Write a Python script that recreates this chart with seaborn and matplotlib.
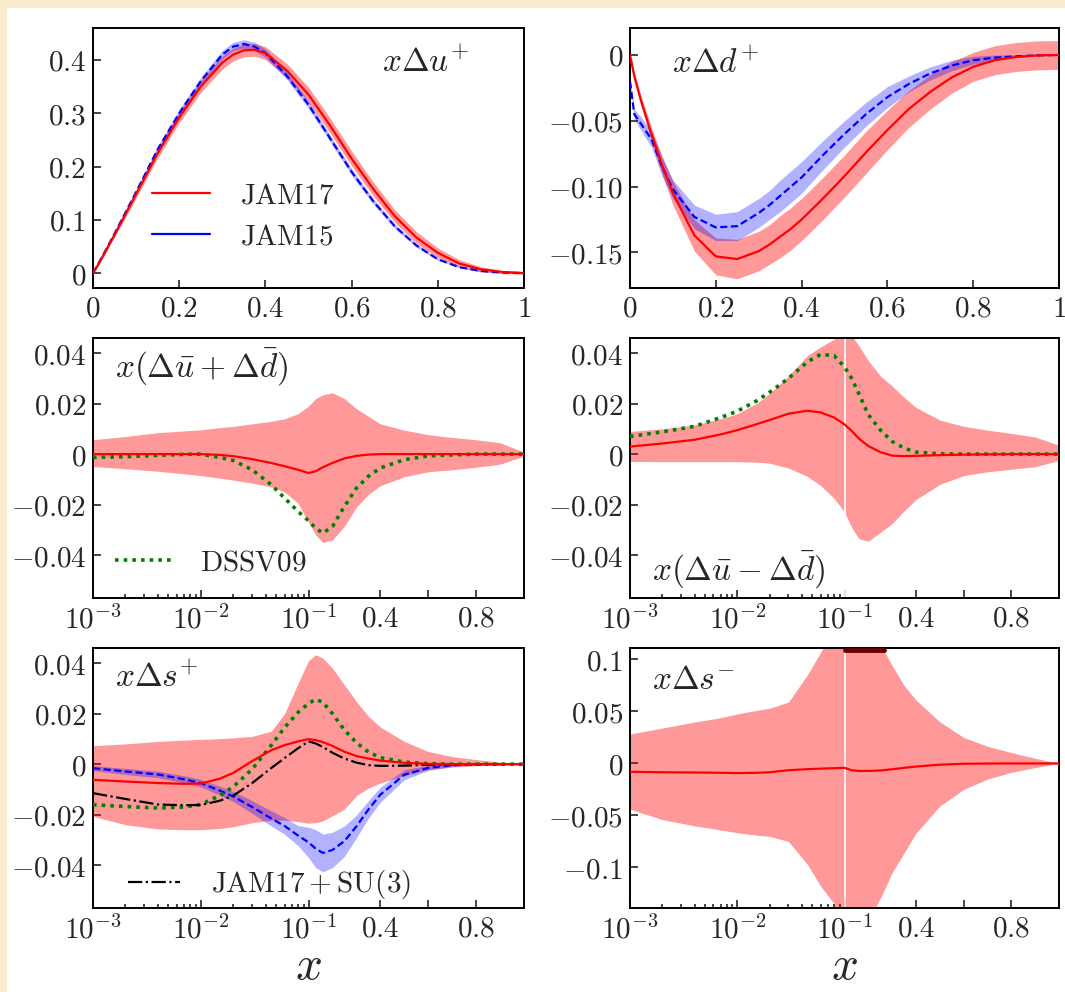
import numpy as np
import matplotlib
matplotlib.use('Agg')
import matplotlib.pyplot as plt
from matplotlib.lines import Line2D
from matplotlib.patches import Rectangle
import seaborn as sns

# ---- top row: linear x ----
x_lin = [0, 0.01, 0.025, 0.05, 0.075, 0.1, 0.15, 0.2, 0.25, 0.3, 0.325, 0.35, 0.375, 0.4, 0.45,
         0.5, 0.55, 0.6, 0.65, 0.7, 0.75, 0.8, 0.85, 0.9, 0.95, 1.0]

up_jam17 = [0, 0.013, 0.035, 0.072, 0.11, 0.148, 0.225, 0.292, 0.35, 0.395, 0.41, 0.418, 0.419, 0.413, 0.38,
            0.335, 0.277, 0.215, 0.158, 0.107, 0.067, 0.038, 0.018, 0.007, 0.002, 0]
up_jam17_err = [0, 0.002, 0.003, 0.004, 0.006, 0.007, 0.009, 0.01, 0.011, 0.012, 0.012, 0.012, 0.012, 0.012, 0.013,
                0.014, 0.014, 0.014, 0.013, 0.012, 0.011, 0.009, 0.007, 0.005, 0.003, 0.002]
up_jam15 = [0, 0.014, 0.036, 0.074, 0.113, 0.152, 0.232, 0.3, 0.36, 0.41, 0.425, 0.43, 0.425, 0.413, 0.37,
            0.316, 0.253, 0.19, 0.135, 0.088, 0.052, 0.026, 0.011, 0.004, 0.001, 0]
up_jam15_err = [0, 0.002, 0.003, 0.004, 0.005, 0.005, 0.006, 0.007, 0.007, 0.008, 0.008, 0.008, 0.008, 0.008, 0.007,
                0.007, 0.006, 0.006, 0.005, 0.004, 0.003, 0.002, 0.001, 0.001, 0, 0]

dp_jam17 = [0, -0.016, -0.034, -0.06, -0.084, -0.105, -0.137, -0.153, -0.155, -0.149, -0.144, -0.138, -0.132, -0.125, -0.109,
            -0.092, -0.074, -0.057, -0.041, -0.028, -0.017, -0.009, -0.004, -0.0015, -0.0003, 0]
dp_jam17_err = [0.002, 0.003, 0.004, 0.005, 0.007, 0.009, 0.012, 0.014, 0.015, 0.015, 0.015, 0.016, 0.016, 0.016, 0.016,
                0.016, 0.016, 0.015, 0.014, 0.013, 0.012, 0.011, 0.011, 0.011, 0.011, 0.011]
dp_jam15 = [-0.02, -0.045, -0.052, -0.064, -0.085, -0.102, -0.123, -0.131, -0.13, -0.12, -0.114, -0.107, -0.100, -0.093, -0.076,
            -0.06, -0.045, -0.032, -0.022, -0.014, -0.008, -0.004, -0.002, -0.001, -0.0003, 0]
dp_jam15_err = [0.003, 0.004, 0.005, 0.006, 0.007, 0.007, 0.009, 0.01, 0.011, 0.011, 0.011, 0.012, 0.012, 0.012, 0.011,
                0.01, 0.009, 0.008, 0.006, 0.005, 0.004, 0.003, 0.002, 0.001, 0, 0]

# ---- middle / bottom rows: log (1e-3..0.1) + linear (0.1..1) ----
x_mix = [1e-3, 2e-3, 4e-3, 7e-3, 1e-2, 1.5e-2, 2e-2, 3e-2, 4.5e-2, 6e-2, 8e-2, 0.1, 0.13,
         0.16, 0.2, 0.25, 0.3, 0.35, 0.4, 0.5, 0.6, 0.7, 0.8, 0.9, 1.0]

sea_jam17 = [0, 0, 0, 0, 0, -0.0003, -0.0008, -0.002, -0.0035, -0.0048, -0.0062, -0.0075, -0.0068,
             -0.0052, -0.0035, -0.0017, -0.0007, -0.0002, 0, 0, 0, 0, 0, 0, 0]
sea_lo = [-0.0049, -0.0058, -0.0068, -0.0078, -0.0085, -0.0095, -0.0103, -0.0115, -0.013, -0.015, -0.0195, -0.027, -0.032,
          -0.035, -0.034, -0.0286, -0.021, -0.016, -0.0125, -0.009, -0.007, -0.0062, -0.0052, -0.004, -0.0008]
sea_hi = [0.0057, 0.007, 0.0085, 0.0092, 0.0096, 0.0105, 0.011, 0.012, 0.013, 0.014, 0.016, 0.019, 0.022,
          0.0235, 0.0243, 0.022, 0.018, 0.015, 0.012, 0.0095, 0.0077, 0.0066, 0.0057, 0.0045, 0.0008]
sea_dssv = [-0.0013, -0.001, -0.0005, -0.0001, 0, -0.0013, -0.0025, -0.0062, -0.0121, -0.0174, -0.0227, -0.0264, -0.0293,
            -0.0313, -0.0287, -0.0207, -0.0135, -0.0088, -0.0055, -0.0022, -0.0007, -0.0003, 0, 0, 0]

sea_m_jam17 = [0.003, 0.0042, 0.0057, 0.0078, 0.0095, 0.0118, 0.0135, 0.016, 0.0172, 0.0165, 0.0145, 0.0118, 0.0092,
               0.0062, 0.0032, 0.0008, -0.0006, -0.0008, -0.0007, -0.0004, -0.0002, -0.0001, 0, 0, 0]
sea_m_lo = [-0.0029, -0.003, -0.003, -0.003, -0.003, -0.0032, -0.0036, -0.0055, -0.0088, -0.0125, -0.0175, -0.023, -0.029,
            -0.0335, -0.0345, -0.031, -0.0275, -0.0225, -0.018, -0.012, -0.0085, -0.007, -0.006, -0.005, -0.0025]
sea_m_hi = [0.009, 0.010, 0.0116, 0.014, 0.016, 0.02, 0.024, 0.031, 0.039, 0.0425, 0.0455, 0.048, 0.047,
            0.043, 0.037, 0.031, 0.027, 0.0225, 0.0185, 0.0135, 0.011, 0.0095, 0.0082, 0.0068, 0.0035]
sea_m_dssv = [0.007, 0.0088, 0.011, 0.0145, 0.017, 0.021, 0.0245, 0.030, 0.0365, 0.0395, 0.039, 0.0345, 0.030,
              0.024, 0.0156, 0.0096, 0.005, 0.0024, 0.0008, 0.0001, 0, 0, 0, 0, 0]

sp_jam17 = [-0.0062, -0.0069, -0.0075, -0.0078, -0.0077, -0.0058, -0.0035, 0.0012, 0.0055, 0.0075, 0.009, 0.0099, 0.0095,
            0.0087, 0.0072, 0.0049, 0.0032, 0.0022, 0.0014, 0.0005, 0.0001, 0, 0, 0, 0]
sp_lo = [-0.0207, -0.024, -0.0257, -0.026, -0.026, -0.0255, -0.0248, -0.0232, -0.0222, -0.0222, -0.0228, -0.0234, -0.0232,
         -0.0225, -0.0205, -0.0178, -0.0125, -0.0095, -0.0075, -0.0045, -0.0022, -0.0012, -0.0006, -0.0003, 0]
sp_hi = [0.0073, 0.008, 0.009, 0.0095, 0.0098, 0.0101, 0.0104, 0.011, 0.013, 0.020, 0.032, 0.041, 0.0433,
         0.042, 0.038, 0.0314, 0.0248, 0.019, 0.0147, 0.009, 0.005, 0.003, 0.0018, 0.0008, 0]
sp_jam15 = [-0.0016, -0.0029, -0.0041, -0.006, -0.0075, -0.0105, -0.0128, -0.017, -0.0215, -0.0245, -0.0283, -0.031, -0.0335,
            -0.0352, -0.034, -0.0305, -0.0247, -0.018, -0.0121, -0.0042, -0.0015, -0.0004, -0.0001, 0, 0]
sp_jam15_err = [0.001, 0.0012, 0.0013, 0.0014, 0.0015, 0.0018, 0.002, 0.0025, 0.003, 0.0033, 0.004, 0.006, 0.0075,
                0.0075, 0.007, 0.006, 0.0045, 0.0035, 0.003, 0.002, 0.001, 0.0005, 0.0003, 0, 0]
sp_dssv = [-0.0161, -0.0168, -0.0174, -0.017, -0.016, -0.0125, -0.009, -0.002, 0.0074, 0.0145, 0.0205, 0.024, 0.0257,
           0.0245, 0.020, 0.0135, 0.0085, 0.0048, 0.0026, 0.0008, 0.0002, 0, 0, 0, 0]
sp_su3 = [-0.0115, -0.0138, -0.016, -0.0163, -0.0162, -0.0145, -0.0125, -0.0075, -0.0016, 0.0024, 0.0063, 0.009, 0.0082,
          0.0068, 0.0045, 0.0022, 0.0006, -0.0004, -0.0007, -0.0006, -0.0003, -0.0001, 0, 0, 0]

sm_jam17 = [-0.008, -0.0085, -0.0087, -0.009, -0.0093, -0.009, -0.0085, -0.0065, -0.0055, -0.005, -0.0046, -0.0042, -0.0065,
            -0.0072, -0.0072, -0.0068, -0.0056, -0.0042, -0.003, -0.0012, -0.0003, -0.0001, 0, 0, 0]
sm_lo = [-0.044, -0.054, -0.060, -0.064, -0.0666, -0.069, -0.07, -0.075, -0.097, -0.118, -0.135, -0.16, -0.16,
         -0.155, -0.15, -0.13, -0.105, -0.086, -0.067, -0.041, -0.025, -0.015, -0.0085, -0.004, 0]
sm_hi = [0.0283, 0.034, 0.0398, 0.044, 0.0476, 0.051, 0.053, 0.059, 0.085, 0.107, 0.13, 0.14, 0.14,
         0.135, 0.125, 0.115, 0.094, 0.075, 0.061, 0.04, 0.025, 0.0165, 0.0105, 0.005, 0]
sm_cap_x = [0.1, 0.265]
sm_cap_y = [0.1095, 0.1095]

# ---- style ----
sns.set_style('ticks')
plt.rcParams['font.family'] = ['DejaVu Serif', 'DejaVu Sans']
plt.rcParams['mathtext.fontset'] = 'cm'
plt.rcParams['axes.linewidth'] = 1.4
plt.rcParams['axes.edgecolor'] = 'black'

RED_BAND = (1.0, 0.0, 0.0, 0.40)
BLUE_BAND = (0.0, 0.0, 1.0, 0.30)
DOT = (0, (1, 1.4))
DASH = (0, (3.2, 1.6))


def fwd(x):
    x = np.asarray(x, dtype=float)
    with np.errstate(divide='ignore', invalid='ignore'):
        lo = (np.log10(np.maximum(x, 1e-300)) + 3) / 4
    hi = 0.5 + (x - 0.1) / 1.8
    return np.where(x < 0.1, lo, hi)


def inv(t):
    t = np.asarray(t, dtype=float)
    with np.errstate(over='ignore'):
        lo = 10 ** (4 * np.minimum(t, 1.0) - 3)
    return np.where(t < 0.5, lo, 0.1 + (t - 0.5) * 1.8)


def m(v):
    return '$' + v + '$'


def style_lin(ax, yt, ylab, ylim):
    ax.set_xlim(0, 1)
    ax.set_ylim(*ylim)
    ax.set_xticks([0, 0.2, 0.4, 0.6, 0.8, 1.0],
                  labels=[m(s) for s in ['0', '0.2', '0.4', '0.6', '0.8', '1']])
    ax.set_yticks(yt, labels=[m(s) for s in ylab])


def style_mix(ax, yt, ylab, ylim):
    ax.set_xscale('function', functions=(fwd, inv))
    ax.set_xlim(1e-3, 1.0)
    ax.set_ylim(*ylim)
    ax.set_xticks([1e-3, 1e-2, 1e-1, 0.4, 0.6, 0.8],
                  labels=['$10^{-3}$', '$10^{-2}$', '$10^{-1}$', '$0.4$', '', '$0.8$'])
    ax.set_xticks([k * 10.0 ** e for e in (-3, -2) for k in range(2, 10)], minor=True)
    ax.set_yticks(yt, labels=[m(s) for s in ylab])


def common(ax):
    ax.tick_params(which='both', direction='in', top=False, right=False,
                   labelsize=21, width=1.2, pad=5)
    ax.tick_params(which='major', length=6)
    ax.tick_params(which='minor', length=3)
    for sp in ax.spines.values():
        sp.set_visible(True)
        sp.set_linewidth(1.4)


def band(ax, x, lo, hi, color):
    ax.fill_between(x, lo, hi, color=color, lw=0, zorder=1)


def line(ax, x, y, **kw):
    sns.lineplot(x=x, y=y, ax=ax, estimator=None, sort=False, zorder=4, **kw)


fig = plt.figure(figsize=(10.65, 9.92), dpi=100)
fig.patch.set_facecolor('white')
cream = '#fbeccf'
fig.patches.append(Rectangle((0, 0), 6 / 1065, 1, transform=fig.transFigure, color=cream, zorder=-5))
fig.patches.append(Rectangle((0, 1 - 7 / 992), 1, 7 / 992, transform=fig.transFigure, color=cream, zorder=-5))

lefts = [93 / 1065, 630 / 1065]
widths = [431 / 1065, 429 / 1065]
bottoms = [1 - 288 / 992, 1 - 598 / 992, 1 - 908 / 992]
h = 260 / 992
axs = [[fig.add_axes([lefts[c], bottoms[r], widths[c], h]) for c in range(2)] for r in range(3)]

xl = np.array(x_lin)
xm = np.array(x_mix)

# x Delta u+
ax = axs[0][0]
band(ax, xl, np.array(up_jam17) - up_jam17_err, np.array(up_jam17) + up_jam17_err, RED_BAND)
band(ax, xl, np.array(up_jam15) - up_jam15_err, np.array(up_jam15) + up_jam15_err, BLUE_BAND)
line(ax, xl, up_jam15, color='blue', lw=1.6, linestyle=DASH)
line(ax, xl, up_jam17, color='red', lw=1.6)
style_lin(ax, [0, 0.1, 0.2, 0.3, 0.4], ['0', '0.1', '0.2', '0.3', '0.4'], (-0.028, 0.46))
ax.text(0.67, 0.83, r'$x\Delta u^{+}$', transform=ax.transAxes, fontsize=24)
ax.legend(handles=[Line2D([], [], color='red', lw=1.6), Line2D([], [], color='blue', lw=1.6)],
          labels=[r'$\mathrm{JAM17}$', r'$\mathrm{JAM15}$'], loc='center left',
          bbox_to_anchor=(0.137, 0.277), frameon=False, fontsize=21, handlelength=2.0,
          handletextpad=1.0, labelspacing=0.45, borderpad=0, borderaxespad=0)

# x Delta d+
ax = axs[0][1]
band(ax, xl, np.array(dp_jam17) - dp_jam17_err, np.array(dp_jam17) + dp_jam17_err, RED_BAND)
band(ax, xl, np.array(dp_jam15) - dp_jam15_err, np.array(dp_jam15) + dp_jam15_err, BLUE_BAND)
line(ax, xl, dp_jam15, color='blue', lw=1.6, linestyle=DASH)
line(ax, xl, dp_jam17, color='red', lw=1.6)
style_lin(ax, [0, -0.05, -0.10, -0.15], ['0', '-0.05', '-0.10', '-0.15'], (-0.177, 0.0205))
ax.text(0.098, 0.827, r'$x\Delta d^{+}$', transform=ax.transAxes, fontsize=24)

# x(Delta ubar + Delta dbar)
ax = axs[1][0]
style_mix(ax, [0.04, 0.02, 0, -0.02, -0.04], ['0.04', '0.02', '0', '-0.02', '-0.04'], (-0.057, 0.046))
band(ax, xm, sea_lo, sea_hi, RED_BAND)
line(ax, xm, sea_dssv, color='green', lw=2.6, linestyle=DOT)
line(ax, xm, sea_jam17, color='red', lw=1.6)
ax.text(0.051, 0.846, r'$x(\Delta\bar{u}+\Delta\bar{d})$', transform=ax.transAxes, fontsize=24)
ax.legend(handles=[Line2D([], [], color='green', lw=2.6, linestyle=DOT)],
          labels=[r'$\mathrm{DSSV09}$'], loc='center left', bbox_to_anchor=(0.051, 0.138),
          frameon=False, fontsize=21, handlelength=2.0, handletextpad=0.9,
          borderpad=0, borderaxespad=0)

# x(Delta ubar - Delta dbar)
ax = axs[1][1]
style_mix(ax, [0.04, 0.02, 0, -0.02, -0.04], ['0.04', '0.02', '0', '-0.02', '-0.04'], (-0.057, 0.046))
band(ax, xm, sea_m_lo, sea_m_hi, RED_BAND)
ax.axvline(0.1, color='white', lw=1.2, zorder=2)
line(ax, xm, sea_m_dssv, color='green', lw=2.6, linestyle=DOT)
line(ax, xm, sea_m_jam17, color='red', lw=1.6)
ax.text(0.051, 0.069, r'$x(\Delta\bar{u}-\Delta\bar{d})$', transform=ax.transAxes, fontsize=24)

# x Delta s+
ax = axs[2][0]
style_mix(ax, [0.04, 0.02, 0, -0.02, -0.04], ['0.04', '0.02', '0', '-0.02', '-0.04'], (-0.057, 0.046))
band(ax, xm, sp_lo, sp_hi, RED_BAND)
band(ax, xm, np.array(sp_jam15) - sp_jam15_err, np.array(sp_jam15) + sp_jam15_err, BLUE_BAND)
line(ax, xm, sp_jam15, color='blue', lw=1.6, linestyle=DASH)
line(ax, xm, sp_dssv, color='green', lw=2.6, linestyle=DOT)
line(ax, xm, sp_su3, color='black', lw=1.6, linestyle='-.')
line(ax, xm, sp_jam17, color='red', lw=1.6)
ax.text(0.051, 0.849, r'$x\Delta s^{+}$', transform=ax.transAxes, fontsize=24)
ax.legend(handles=[Line2D([], [], color='black', lw=1.6, linestyle='-.')],
          labels=[r'$\mathrm{JAM17+SU(3)}$'], loc='center left', bbox_to_anchor=(0.081, 0.089),
          frameon=False, fontsize=21, handlelength=1.8, handletextpad=1.05,
          borderpad=0, borderaxespad=0)
ax.set_xlabel('$x$', fontsize=34, labelpad=0)

# x Delta s-
ax = axs[2][1]
style_mix(ax, [0.1, 0.05, 0, -0.05, -0.1], ['0.1', '0.05', '0', '-0.05', '-0.1'], (-0.139, 0.111))
band(ax, xm, sm_lo, sm_hi, RED_BAND)
ax.axvline(0.1, color='white', lw=1.2, zorder=2)
line(ax, sm_cap_x, sm_cap_y, color='#6a0000', lw=3.5)
line(ax, xm, sm_jam17, color='red', lw=1.6)
ax.text(0.051, 0.842, r'$x\Delta s^{-}$', transform=ax.transAxes, fontsize=24)
ax.set_xlabel('$x$', fontsize=34, labelpad=0)

for row in axs:
    for ax in row:
        common(ax)
        if ax.get_xlabel() != '$x$':
            ax.set_xlabel('')
        ax.set_ylabel('')

fig.savefig('out.png', dpi=100, facecolor=fig.get_facecolor())
